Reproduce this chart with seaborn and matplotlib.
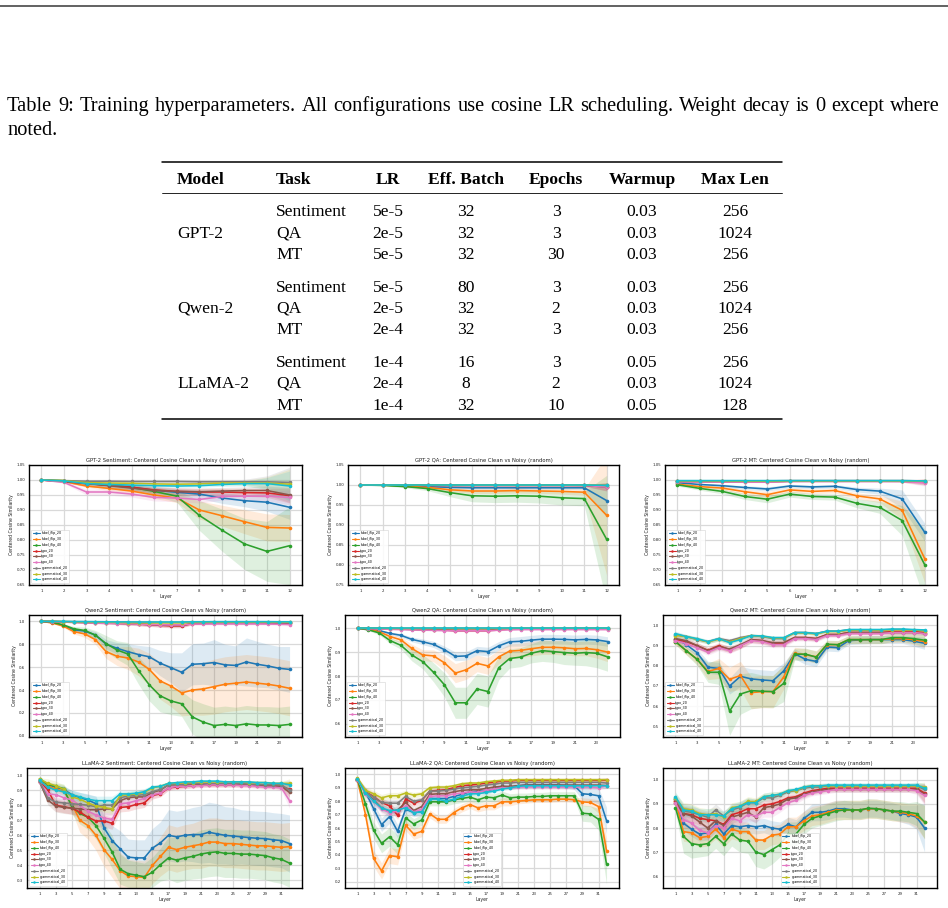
import numpy as np
import pandas as pd
import matplotlib
matplotlib.use("Agg")
import matplotlib.pyplot as plt
import seaborn as sns
from matplotlib.lines import Line2D
from matplotlib.ticker import FormatStrFormatter

# ---------------------------------------------------------------- data
SERIES = ["label_flip_20", "label_flip_30", "label_flip_40",
          "typo_20", "typo_30", "typo_40",
          "grammatical_20", "grammatical_30", "grammatical_40"]
COLORS = ["#1f77b4", "#ff7f0e", "#2ca02c", "#d62728", "#8c564b",
          "#e377c2", "#7f7f7f", "#bcbd22", "#17becf"]

CAPTION_1 = ("Table 9: Training hyperparameters.  All configurations use cosine LR "
             "scheduling.  Weight decay is 0 except where")
CAPTION_2 = "noted."
HEADERS = ["Model", "Task", "LR", "Eff. Batch", "Epochs", "Warmup", "Max Len"]
MODELS = ["GPT-2", "Qwen-2", "LLaMA-2"]
TASKS = ["Sentiment", "QA", "MT", "Sentiment", "QA", "MT", "Sentiment", "QA", "MT"]
LR = ["5e-5", "2e-5", "5e-5", "5e-5", "2e-5", "2e-4", "1e-4", "2e-4", "1e-4"]
EFF_BATCH = ["32", "32", "32", "80", "32", "32", "16", "8", "32"]
EPOCHS = ["3", "3", "30", "3", "2", "3", "3", "2", "10"]
WARMUP = ["0.03", "0.03", "0.03", "0.03", "0.03", "0.03", "0.05", "0.03", "0.05"]
MAX_LEN = ["256", "1024", "256", "256", "1024", "256", "256", "1024", "128"]

LAYERS_12 = [1, 2, 3, 4, 5, 6, 7, 8, 9, 10, 11, 12]
LAYERS_24 = [1, 2, 3, 4, 5, 6, 7, 8, 9, 10, 11, 12, 13, 14, 15, 16, 17, 18, 19, 20, 21, 22, 23, 24]
LAYERS_32 = [1, 2, 3, 4, 5, 6, 7, 8, 9, 10, 11, 12, 13, 14, 15, 16, 17, 18, 19, 20,
             21, 22, 23, 24, 25, 26, 27, 28, 29, 30, 31, 32]
XTICKS_24 = [1, 3, 5, 7, 9, 11, 13, 15, 17, 19, 21, 23]
XTICKS_32 = [1, 3, 5, 7, 9, 11, 13, 15, 17, 19, 21, 23, 25, 27, 29, 31]

# GPT-2 Sentiment (rows in SERIES order)
GPT2_SENT = [
    [1.000, 0.996, 0.988, 0.983, 0.976, 0.966, 0.959, 0.953, 0.940, 0.931, 0.926, 0.909],
    [1.000, 0.995, 0.980, 0.972, 0.963, 0.950, 0.940, 0.900, 0.881, 0.861, 0.842, 0.840],
    [1.000, 0.998, 0.990, 0.982, 0.975, 0.962, 0.946, 0.882, 0.833, 0.787, 0.762, 0.781],
    [1.000, 0.995, 0.988, 0.982, 0.976, 0.967, 0.962, 0.960, 0.960, 0.958, 0.957, 0.948],
    [1.000, 0.995, 0.989, 0.981, 0.973, 0.965, 0.962, 0.961, 0.963, 0.965, 0.965, 0.950],
    [1.000, 0.992, 0.960, 0.960, 0.953, 0.942, 0.940, 0.935, 0.945, 0.946, 0.946, 0.942],
    [1.000, 0.998, 0.996, 0.996, 0.995, 0.995, 0.995, 0.994, 0.994, 0.994, 0.994, 0.992],
    [1.000, 0.998, 0.991, 0.990, 0.989, 0.987, 0.986, 0.987, 0.990, 0.990, 0.990, 0.986],
    [1.000, 0.997, 0.988, 0.985, 0.983, 0.981, 0.980, 0.981, 0.985, 0.988, 0.988, 0.980],
]
# std bands: label_flip_20, _30, _40, typo (all), grammatical (all)
GPT2_SENT_SD = [
    [0.000, 0.002, 0.004, 0.006, 0.008, 0.010, 0.012, 0.014, 0.018, 0.020, 0.030, 0.040],
    [0.000, 0.002, 0.005, 0.007, 0.009, 0.012, 0.015, 0.030, 0.035, 0.040, 0.045, 0.045],
    [0.000, 0.002, 0.005, 0.008, 0.010, 0.013, 0.020, 0.050, 0.070, 0.085, 0.100, 0.130],
    [0.000, 0.003, 0.010, 0.010, 0.010, 0.012, 0.012, 0.012, 0.012, 0.012, 0.015, 0.025],
    [0.000, 0.001, 0.003, 0.003, 0.004, 0.004, 0.005, 0.005, 0.006, 0.008, 0.020, 0.050],
]

GPT2_QA = [
    [1.000, 1.000, 0.998, 0.996, 0.994, 0.993, 0.993, 0.993, 0.993, 0.993, 0.993, 0.961],
    [1.000, 1.000, 0.997, 0.994, 0.988, 0.985, 0.985, 0.986, 0.985, 0.984, 0.982, 0.924],
    [1.000, 0.999, 0.996, 0.991, 0.981, 0.973, 0.972, 0.973, 0.972, 0.968, 0.966, 0.864],
    [1.000, 1.000, 1.000, 0.999, 0.999, 0.999, 0.999, 0.999, 0.999, 0.999, 0.999, 0.996],
    [1.000, 1.000, 1.000, 0.999, 0.999, 0.999, 0.999, 0.999, 0.999, 0.999, 0.999, 0.995],
    [1.000, 1.000, 1.000, 0.999, 0.999, 0.999, 0.999, 0.999, 0.999, 0.999, 0.999, 0.995],
    [1.000, 1.000, 1.000, 1.000, 1.000, 1.000, 1.000, 1.000, 1.000, 1.000, 1.000, 0.999],
    [1.000, 1.000, 1.000, 1.000, 1.000, 1.000, 1.000, 1.000, 1.000, 1.000, 1.000, 0.999],
    [1.000, 1.000, 1.000, 1.000, 1.000, 1.000, 1.000, 1.000, 1.000, 1.000, 1.000, 0.999],
]
GPT2_QA_SD = [
    [0.000, 0.000, 0.001, 0.002, 0.003, 0.004, 0.004, 0.004, 0.004, 0.004, 0.005, 0.040],
    [0.000, 0.000, 0.002, 0.003, 0.005, 0.006, 0.006, 0.006, 0.006, 0.007, 0.008, 0.150],
    [0.000, 0.001, 0.003, 0.005, 0.010, 0.015, 0.016, 0.016, 0.017, 0.018, 0.018, 0.160],
    [0.000, 0.000, 0.000, 0.001, 0.001, 0.001, 0.001, 0.001, 0.001, 0.001, 0.002, 0.010],
    [0.000, 0.000, 0.000, 0.000, 0.000, 0.000, 0.000, 0.000, 0.000, 0.000, 0.001, 0.005],
]

GPT2_MT = [
    [0.991, 0.985, 0.981, 0.975, 0.970, 0.980, 0.977, 0.979, 0.968, 0.963, 0.937, 0.826],
    [0.986, 0.978, 0.973, 0.961, 0.951, 0.967, 0.962, 0.965, 0.947, 0.937, 0.899, 0.738],
    [0.984, 0.972, 0.962, 0.945, 0.936, 0.953, 0.945, 0.943, 0.922, 0.909, 0.865, 0.718],
    [0.995, 0.995, 0.995, 0.995, 0.995, 0.996, 0.996, 0.996, 0.996, 0.996, 0.996, 0.994],
    [0.995, 0.995, 0.995, 0.994, 0.994, 0.996, 0.996, 0.996, 0.996, 0.996, 0.996, 0.993],
    [0.994, 0.994, 0.994, 0.993, 0.993, 0.995, 0.995, 0.995, 0.995, 0.995, 0.995, 0.990],
    [0.997, 0.997, 0.997, 0.997, 0.997, 0.998, 0.998, 0.998, 0.998, 0.998, 0.998, 0.997],
    [0.997, 0.997, 0.997, 0.996, 0.996, 0.997, 0.997, 0.997, 0.997, 0.997, 0.997, 0.996],
    [0.998, 0.998, 0.998, 0.998, 0.998, 0.998, 0.998, 0.998, 0.998, 0.998, 0.998, 0.997],
]
GPT2_MT_SD = [
    [0.003, 0.004, 0.005, 0.006, 0.007, 0.006, 0.006, 0.006, 0.008, 0.010, 0.030, 0.030],
    [0.003, 0.005, 0.006, 0.008, 0.010, 0.008, 0.008, 0.008, 0.010, 0.012, 0.030, 0.080],
    [0.004, 0.006, 0.008, 0.010, 0.012, 0.010, 0.010, 0.010, 0.015, 0.020, 0.050, 0.120],
    [0.002, 0.002, 0.002, 0.002, 0.002, 0.002, 0.002, 0.002, 0.002, 0.002, 0.003, 0.010],
    [0.001, 0.001, 0.001, 0.001, 0.001, 0.001, 0.001, 0.001, 0.001, 0.001, 0.002, 0.005],
]

QWEN_SENT = [
    [1.000, 0.990, 0.965, 0.925, 0.915, 0.880, 0.800, 0.765, 0.735, 0.710, 0.690, 0.635,
     0.595, 0.555, 0.625, 0.630, 0.640, 0.620, 0.615, 0.645, 0.625, 0.610, 0.590, 0.580],
    [1.000, 0.985, 0.960, 0.910, 0.890, 0.840, 0.735, 0.695, 0.680, 0.645, 0.580, 0.480,
     0.435, 0.375, 0.400, 0.410, 0.430, 0.450, 0.460, 0.470, 0.460, 0.450, 0.435, 0.415],
    [1.000, 0.990, 0.970, 0.935, 0.920, 0.880, 0.805, 0.750, 0.715, 0.570, 0.445, 0.350,
     0.305, 0.280, 0.165, 0.120, 0.090, 0.100, 0.090, 0.105, 0.095, 0.095, 0.090, 0.100],
    [1.000, 0.998, 0.995, 0.992, 0.990, 0.988, 0.985, 0.983, 0.980, 0.975, 0.970, 0.965,
     0.960, 0.960, 0.980, 0.982, 0.985, 0.985, 0.985, 0.985, 0.985, 0.985, 0.985, 0.982],
    [1.000, 0.998, 0.995, 0.992, 0.990, 0.988, 0.985, 0.982, 0.980, 0.976, 0.972, 0.968,
     0.965, 0.965, 0.982, 0.983, 0.985, 0.985, 0.985, 0.985, 0.985, 0.985, 0.984, 0.982],
    [1.000, 0.998, 0.994, 0.990, 0.988, 0.985, 0.982, 0.980, 0.978, 0.975, 0.972, 0.970,
     0.968, 0.968, 0.976, 0.976, 0.977, 0.977, 0.977, 0.977, 0.977, 0.976, 0.974, 0.972],
    [1.000, 0.999, 0.998, 0.997, 0.996, 0.995, 0.993, 0.992, 0.991, 0.990, 0.990, 0.990,
     0.990, 0.990, 0.993, 0.994, 0.995, 0.995, 0.995, 0.995, 0.995, 0.995, 0.995, 0.994],
    [1.000, 0.999, 0.998, 0.996, 0.995, 0.994, 0.992, 0.990, 0.989, 0.988, 0.987, 0.987,
     0.987, 0.987, 0.991, 0.992, 0.993, 0.993, 0.993, 0.993, 0.993, 0.993, 0.993, 0.992],
    [1.000, 0.999, 0.999, 0.998, 0.998, 0.997, 0.996, 0.995, 0.995, 0.994, 0.994, 0.994,
     0.994, 0.994, 0.996, 0.996, 0.997, 0.997, 0.997, 0.997, 0.997, 0.997, 0.996, 0.996],
]
QWEN_SENT_SD = [
    [0.000, 0.005, 0.010, 0.015, 0.020, 0.030, 0.040, 0.050, 0.070, 0.080, 0.090, 0.110,
     0.130, 0.170, 0.180, 0.180, 0.200, 0.180, 0.170, 0.210, 0.200, 0.190, 0.190, 0.200],
    [0.000, 0.005, 0.010, 0.020, 0.030, 0.040, 0.060, 0.080, 0.100, 0.120, 0.140, 0.160,
     0.180, 0.200, 0.220, 0.230, 0.240, 0.240, 0.240, 0.240, 0.240, 0.240, 0.240, 0.240],
    [0.000, 0.005, 0.010, 0.020, 0.030, 0.040, 0.070, 0.080, 0.100, 0.120, 0.140, 0.140,
     0.120, 0.110, 0.150, 0.160, 0.160, 0.160, 0.160, 0.160, 0.160, 0.160, 0.160, 0.160],
    [0.000, 0.002, 0.004, 0.005, 0.006, 0.007, 0.008, 0.010, 0.012, 0.014, 0.015, 0.017,
     0.018, 0.018, 0.010, 0.010, 0.010, 0.010, 0.010, 0.010, 0.010, 0.010, 0.010, 0.012],
    [0.000, 0.001, 0.001, 0.002, 0.002, 0.002, 0.003, 0.003, 0.003, 0.004, 0.004, 0.004,
     0.004, 0.004, 0.003, 0.003, 0.003, 0.003, 0.003, 0.003, 0.003, 0.003, 0.003, 0.003],
]

QWEN_QA = [
    [1.000, 0.995, 0.990, 0.978, 0.970, 0.953, 0.943, 0.932, 0.910, 0.882, 0.884, 0.906,
     0.902, 0.926, 0.943, 0.945, 0.950, 0.954, 0.954, 0.953, 0.951, 0.953, 0.951, 0.944],
    [1.000, 0.995, 0.985, 0.965, 0.951, 0.915, 0.888, 0.884, 0.855, 0.812, 0.826, 0.853,
     0.842, 0.880, 0.904, 0.907, 0.914, 0.920, 0.920, 0.918, 0.914, 0.915, 0.910, 0.900],
    [1.000, 0.993, 0.980, 0.948, 0.928, 0.888, 0.860, 0.815, 0.763, 0.688, 0.688, 0.746,
     0.735, 0.835, 0.873, 0.879, 0.895, 0.906, 0.902, 0.898, 0.895, 0.898, 0.895, 0.880],
    [1.000, 0.999, 0.998, 0.997, 0.996, 0.995, 0.994, 0.993, 0.992, 0.990, 0.990, 0.990,
     0.990, 0.994, 0.996, 0.997, 0.997, 0.997, 0.997, 0.997, 0.997, 0.997, 0.997, 0.997],
    [1.000, 0.999, 0.998, 0.997, 0.996, 0.995, 0.994, 0.993, 0.992, 0.991, 0.991, 0.991,
     0.991, 0.995, 0.996, 0.997, 0.997, 0.997, 0.997, 0.997, 0.997, 0.997, 0.997, 0.997],
    [1.000, 0.998, 0.997, 0.995, 0.994, 0.993, 0.992, 0.991, 0.990, 0.989, 0.989, 0.989,
     0.989, 0.992, 0.993, 0.994, 0.994, 0.994, 0.994, 0.994, 0.994, 0.994, 0.994, 0.994],
    [1.000, 1.000, 1.000, 1.000, 0.999, 0.999, 0.999, 0.999, 0.999, 0.999, 0.999, 0.999,
     0.999, 0.999, 1.000, 1.000, 1.000, 1.000, 1.000, 1.000, 1.000, 1.000, 1.000, 1.000],
    [1.000, 1.000, 1.000, 0.999, 0.999, 0.999, 0.999, 0.999, 0.999, 0.999, 0.999, 0.999,
     0.999, 0.999, 0.999, 1.000, 1.000, 1.000, 1.000, 1.000, 1.000, 1.000, 1.000, 1.000],
    [1.000, 1.000, 1.000, 1.000, 1.000, 1.000, 1.000, 1.000, 1.000, 1.000, 1.000, 1.000,
     1.000, 1.000, 1.000, 1.000, 1.000, 1.000, 1.000, 1.000, 1.000, 1.000, 1.000, 1.000],
]
QWEN_QA_SD = [
    [0.000, 0.002, 0.004, 0.006, 0.008, 0.010, 0.012, 0.013, 0.015, 0.018, 0.018, 0.018,
     0.018, 0.018, 0.018, 0.020, 0.020, 0.020, 0.020, 0.020, 0.020, 0.020, 0.020, 0.020],
    [0.000, 0.003, 0.006, 0.010, 0.012, 0.018, 0.022, 0.025, 0.030, 0.040, 0.040, 0.035,
     0.035, 0.030, 0.030, 0.030, 0.030, 0.030, 0.030, 0.030, 0.030, 0.030, 0.035, 0.040],
    [0.000, 0.004, 0.008, 0.012, 0.016, 0.025, 0.030, 0.040, 0.050, 0.065, 0.065, 0.065,
     0.065, 0.050, 0.040, 0.040, 0.040, 0.045, 0.045, 0.050, 0.050, 0.055, 0.060, 0.060],
    [0.000, 0.001, 0.001, 0.002, 0.002, 0.002, 0.003, 0.003, 0.003, 0.004, 0.004, 0.004,
     0.004, 0.003, 0.002, 0.002, 0.002, 0.002, 0.002, 0.002, 0.002, 0.002, 0.002, 0.002],
    [0.000, 0.000, 0.000, 0.001, 0.001, 0.001, 0.001, 0.001, 0.001, 0.001, 0.001, 0.001,
     0.001, 0.001, 0.001, 0.001, 0.001, 0.001, 0.001, 0.001, 0.001, 0.001, 0.001, 0.001],
]

QWEN_MT = [
    [0.935, 0.905, 0.865, 0.793, 0.787, 0.700, 0.748, 0.735, 0.730, 0.726, 0.775, 0.860,
     0.832, 0.822, 0.893, 0.890, 0.925, 0.928, 0.930, 0.930, 0.930, 0.930, 0.922, 0.912],
    [0.920, 0.875, 0.833, 0.772, 0.787, 0.733, 0.752, 0.667, 0.672, 0.672, 0.745, 0.862,
     0.855, 0.845, 0.905, 0.905, 0.930, 0.930, 0.930, 0.930, 0.935, 0.935, 0.930, 0.920],
    [0.920, 0.875, 0.832, 0.768, 0.768, 0.575, 0.660, 0.677, 0.674, 0.672, 0.713, 0.857,
     0.858, 0.843, 0.907, 0.905, 0.930, 0.930, 0.930, 0.930, 0.940, 0.940, 0.935, 0.927],
    [0.930, 0.920, 0.900, 0.877, 0.900, 0.880, 0.900, 0.930, 0.925, 0.910, 0.913, 0.940,
     0.940, 0.935, 0.955, 0.955, 0.965, 0.965, 0.965, 0.965, 0.970, 0.970, 0.970, 0.965],
    [0.935, 0.925, 0.900, 0.875, 0.895, 0.883, 0.905, 0.930, 0.925, 0.915, 0.915, 0.940,
     0.940, 0.935, 0.955, 0.955, 0.965, 0.965, 0.965, 0.965, 0.965, 0.965, 0.965, 0.960],
    [0.925, 0.910, 0.890, 0.868, 0.890, 0.875, 0.900, 0.925, 0.920, 0.905, 0.905, 0.935,
     0.935, 0.930, 0.950, 0.950, 0.960, 0.960, 0.960, 0.960, 0.965, 0.965, 0.965, 0.960],
    [0.955, 0.945, 0.930, 0.920, 0.935, 0.925, 0.940, 0.950, 0.945, 0.935, 0.935, 0.965,
     0.965, 0.960, 0.972, 0.972, 0.978, 0.978, 0.978, 0.978, 0.980, 0.980, 0.978, 0.975],
    [0.950, 0.945, 0.932, 0.918, 0.932, 0.918, 0.935, 0.950, 0.947, 0.938, 0.938, 0.963,
     0.963, 0.958, 0.970, 0.970, 0.977, 0.977, 0.977, 0.977, 0.979, 0.979, 0.977, 0.974],
    [0.960, 0.945, 0.935, 0.920, 0.935, 0.915, 0.930, 0.950, 0.948, 0.940, 0.940, 0.965,
     0.965, 0.960, 0.972, 0.972, 0.980, 0.980, 0.980, 0.980, 0.982, 0.982, 0.980, 0.978],
]
QWEN_MT_SD = [
    [0.015, 0.015, 0.020, 0.030, 0.030, 0.040, 0.050, 0.050, 0.050, 0.050, 0.040, 0.025,
     0.025, 0.025, 0.020, 0.020, 0.020, 0.020, 0.020, 0.020, 0.020, 0.020, 0.025, 0.030],
    [0.015, 0.020, 0.025, 0.040, 0.050, 0.060, 0.070, 0.080, 0.080, 0.080, 0.060, 0.030,
     0.030, 0.030, 0.020, 0.020, 0.020, 0.020, 0.020, 0.020, 0.020, 0.020, 0.025, 0.030],
    [0.015, 0.020, 0.030, 0.050, 0.060, 0.120, 0.100, 0.090, 0.080, 0.080, 0.090, 0.030,
     0.030, 0.030, 0.020, 0.020, 0.020, 0.020, 0.020, 0.020, 0.020, 0.020, 0.025, 0.030],
    [0.015, 0.015, 0.015, 0.015, 0.015, 0.015, 0.015, 0.015, 0.015, 0.015, 0.015, 0.012,
     0.012, 0.012, 0.010, 0.010, 0.010, 0.010, 0.010, 0.010, 0.010, 0.010, 0.010, 0.010],
    [0.012, 0.010, 0.010, 0.010, 0.010, 0.010, 0.010, 0.008, 0.008, 0.008, 0.008, 0.008,
     0.008, 0.008, 0.006, 0.006, 0.006, 0.006, 0.006, 0.006, 0.006, 0.006, 0.006, 0.006],
]

LLAMA_SENT = [
    [.965, .935, .920, .905, .870, .850, .835, .810, .650, .565, .510, .455, .450, .450, .515, .550,
     .600, .590, .600, .605, .605, .620, .610, .600, .595, .590, .585, .580, .578, .570, .565, .545],
    [.960, .930, .905, .895, .810, .700, .665, .600, .505, .440, .365, .330, .325, .320, .400, .460,
     .520, .505, .520, .530, .540, .555, .555, .545, .545, .540, .535, .530, .530, .525, .520, .525],
    [.975, .940, .925, .910, .790, .745, .720, .665, .580, .490, .375, .345, .335, .325, .355, .405,
     .450, .435, .450, .460, .475, .485, .490, .480, .480, .475, .475, .470, .465, .450, .440, .415],
    [.955, .905, .800, .790, .780, .755, .720, .695, .695, .680, .785, .790, .805, .815, .865, .875,
     .915, .920, .925, .930, .935, .935, .935, .935, .935, .935, .935, .930, .925, .925, .925, .905],
    [.955, .835, .795, .785, .780, .775, .770, .770, .775, .775, .830, .850, .855, .855, .885, .900,
     .935, .935, .935, .935, .940, .940, .940, .940, .940, .940, .935, .935, .930, .930, .925, .885],
    [.955, .875, .870, .850, .835, .800, .760, .735, .715, .705, .810, .815, .830, .845, .870, .880,
     .915, .925, .925, .930, .930, .935, .935, .935, .935, .930, .930, .925, .920, .920, .915, .830],
    [.960, .850, .820, .815, .810, .805, .800, .790, .800, .800, .850, .860, .865, .870, .890, .905,
     .935, .940, .940, .945, .945, .945, .945, .945, .945, .945, .940, .940, .935, .935, .935, .900],
    [.975, .945, .930, .905, .855, .840, .815, .795, .785, .775, .865, .870, .875, .885, .915, .925,
     .945, .945, .950, .950, .955, .955, .955, .955, .955, .955, .950, .950, .950, .945, .945, .945],
    [.965, .920, .900, .890, .870, .855, .840, .830, .830, .830, .875, .875, .880, .890, .920, .925,
     .945, .950, .955, .955, .960, .960, .960, .955, .955, .955, .955, .950, .950, .945, .945, .935],
]
LLAMA_SENT_SD = [
    [.010, .015, .020, .025, .030, .035, .040, .050, .080, .100, .120, .120, .120, .120, .130, .140,
     .170, .170, .170, .180, .190, .200, .200, .190, .190, .180, .180, .180, .180, .180, .180, .190],
    [.010, .015, .020, .030, .050, .080, .090, .100, .110, .120, .120, .110, .110, .110, .120, .130,
     .150, .150, .150, .150, .160, .160, .160, .160, .160, .160, .160, .160, .160, .160, .160, .160],
    [.010, .015, .020, .030, .050, .070, .080, .090, .100, .110, .100, .090, .090, .090, .100, .110,
     .140, .150, .150, .150, .160, .160, .160, .160, .160, .160, .160, .160, .160, .160, .160, .160],
    [.010, .030, .040, .040, .040, .040, .040, .040, .040, .040, .030, .030, .030, .030, .025, .020,
     .015, .015, .015, .015, .015, .015, .015, .015, .015, .015, .015, .015, .015, .015, .020, .050],
    [.008, .030, .030, .030, .030, .030, .030, .030, .030, .030, .020, .020, .020, .020, .015, .015,
     .010, .010, .010, .010, .010, .010, .010, .010, .010, .010, .010, .010, .010, .010, .012, .030],
]

LLAMA_QA = [
    [.965, .870, .745, .625, .685, .575, .740, .715, .720, .820, .820, .820, .835, .850, .870, .875,
     .875, .890, .910, .905, .915, .920, .920, .920, .920, .920, .915, .915, .855, .850, .840, .655],
    [.955, .700, .375, .280, .395, .385, .620, .555, .575, .705, .665, .665, .715, .750, .775, .750,
     .765, .765, .795, .795, .800, .805, .810, .810, .810, .815, .815, .810, .795, .790, .760, .430],
    [.960, .780, .585, .485, .535, .475, .675, .630, .660, .795, .795, .795, .810, .820, .830, .810,
     .830, .825, .845, .825, .830, .830, .835, .835, .840, .840, .840, .840, .710, .705, .665, .330],
    [.960, .870, .835, .790, .765, .695, .815, .785, .805, .875, .880, .885, .900, .915, .920, .925,
     .935, .940, .950, .950, .955, .955, .955, .955, .955, .955, .955, .955, .955, .955, .955, .955],
    [.965, .860, .810, .750, .720, .735, .790, .730, .760, .850, .855, .855, .870, .880, .885, .885,
     .895, .905, .910, .910, .915, .920, .920, .920, .920, .920, .920, .920, .920, .920, .920, .915],
    [.960, .855, .800, .740, .715, .725, .765, .720, .740, .835, .840, .840, .855, .860, .870, .865,
     .880, .890, .900, .900, .905, .905, .905, .905, .905, .905, .905, .905, .905, .905, .900, .915],
    [.965, .870, .830, .790, .785, .785, .835, .800, .810, .875, .875, .880, .890, .900, .905, .910,
     .920, .925, .935, .935, .940, .940, .940, .940, .940, .940, .940, .940, .940, .940, .940, .935],
    [.975, .880, .855, .825, .840, .840, .860, .845, .855, .900, .905, .905, .915, .930, .935, .935,
     .945, .950, .955, .955, .960, .960, .960, .960, .960, .960, .960, .960, .960, .960, .960, .960],
    [.965, .860, .800, .750, .730, .735, .750, .715, .720, .815, .815, .800, .815, .835, .855, .855,
     .865, .875, .890, .900, .910, .915, .915, .915, .915, .915, .915, .915, .915, .915, .915, .915],
]
LLAMA_QA_SD = [
    [.010, .030, .050, .050, .050, .050, .030, .030, .030, .020, .020, .020, .020, .020, .020, .020,
     .020, .020, .020, .020, .020, .020, .020, .020, .020, .020, .020, .030, .050, .050, .060, .100],
    [.010, .050, .060, .060, .060, .060, .040, .040, .040, .030, .030, .030, .030, .030, .030, .030,
     .030, .030, .030, .030, .020, .020, .020, .020, .020, .020, .020, .020, .030, .030, .050, .100],
    [.010, .050, .060, .070, .070, .070, .040, .040, .040, .030, .030, .030, .030, .030, .030, .030,
     .030, .030, .030, .030, .030, .030, .030, .030, .030, .030, .030, .030, .060, .060, .080, .150],
    [.010, .030, .030, .030, .030, .030, .025, .025, .025, .020, .020, .020, .015, .015, .015, .015,
     .015, .015, .015, .015, .015, .015, .015, .015, .015, .015, .015, .015, .015, .015, .015, .020],
    [.010, .025, .025, .025, .025, .025, .020, .020, .020, .015, .015, .015, .012, .012, .012, .012,
     .012, .012, .012, .012, .012, .012, .012, .012, .012, .012, .012, .012, .012, .012, .012, .015],
]

LLAMA_MT = [
    [.920, .820, .795, .775, .780, .815, .775, .810, .805, .810, .805, .810, .800, .795, .815, .805,
     .840, .865, .865, .870, .880, .880, .875, .875, .880, .880, .875, .870, .860, .855, .845, .800],
    [.910, .785, .780, .760, .765, .795, .760, .795, .785, .785, .750, .750, .770, .775, .805, .805,
     .830, .850, .855, .865, .875, .875, .875, .875, .880, .880, .875, .870, .865, .860, .850, .825],
    [.885, .765, .735, .730, .735, .765, .735, .775, .750, .745, .700, .690, .710, .730, .775, .775,
     .815, .840, .850, .860, .870, .875, .875, .875, .882, .880, .875, .870, .870, .865, .860, .825],
    [.910, .860, .855, .840, .835, .830, .815, .855, .865, .880, .880, .895, .900, .910, .925, .930,
     .945, .955, .960, .965, .965, .965, .965, .965, .965, .965, .965, .965, .965, .965, .965, .945],
    [.905, .860, .850, .825, .800, .830, .810, .845, .855, .865, .845, .885, .890, .900, .920, .925,
     .940, .950, .955, .960, .960, .960, .960, .960, .960, .960, .960, .960, .960, .960, .960, .940],
    [.905, .835, .820, .790, .780, .810, .800, .840, .830, .855, .850, .865, .865, .885, .905, .915,
     .935, .945, .950, .955, .960, .960, .960, .960, .960, .960, .960, .960, .960, .960, .955, .935],
    [.920, .870, .865, .855, .845, .875, .850, .875, .885, .905, .905, .925, .925, .935, .950, .955,
     .965, .970, .970, .975, .975, .975, .975, .975, .975, .975, .975, .975, .975, .975, .975, .960],
    [.925, .880, .875, .860, .855, .860, .845, .885, .890, .910, .910, .930, .935, .940, .955, .955,
     .970, .975, .975, .975, .975, .975, .975, .975, .975, .975, .975, .975, .975, .975, .975, .970],
    [.930, .875, .870, .855, .855, .855, .850, .880, .890, .905, .905, .930, .935, .940, .955, .960,
     .970, .975, .975, .978, .978, .978, .978, .978, .978, .978, .978, .978, .978, .978, .978, .965],
]
LLAMA_MT_SD = [
    [.020, .030, .030, .030, .030, .030, .030, .030, .030, .030, .030, .030, .030, .030, .030, .030,
     .030, .035, .035, .035, .035, .035, .035, .035, .035, .035, .035, .035, .035, .040, .050, .100],
    [.020, .040, .040, .040, .040, .040, .040, .040, .040, .040, .040, .040, .040, .040, .040, .040,
     .040, .040, .040, .040, .040, .040, .040, .040, .040, .040, .040, .040, .040, .040, .050, .070],
    [.020, .070, .060, .050, .050, .050, .050, .050, .050, .050, .060, .060, .060, .050, .050, .050,
     .040, .040, .040, .040, .040, .040, .040, .040, .040, .040, .040, .040, .040, .040, .050, .070],
    [.020, .030, .030, .030, .030, .030, .030, .025, .025, .025, .025, .020, .020, .020, .015, .015,
     .015, .012, .012, .012, .012, .012, .012, .012, .012, .012, .012, .012, .012, .012, .015, .040],
    [.020, .025, .025, .025, .025, .025, .020, .020, .020, .020, .015, .015, .015, .012, .010, .010,
     .010, .010, .010, .010, .010, .010, .010, .010, .010, .010, .010, .010, .010, .010, .012, .020],
]

PANELS = [
    ("GPT-2 Sentiment", LAYERS_12, LAYERS_12, GPT2_SENT, GPT2_SENT_SD),
    ("GPT-2 QA", LAYERS_12, LAYERS_12, GPT2_QA, GPT2_QA_SD),
    ("GPT-2 MT", LAYERS_12, LAYERS_12, GPT2_MT, GPT2_MT_SD),
    ("Qwen2 Sentiment", LAYERS_24, XTICKS_24, QWEN_SENT, QWEN_SENT_SD),
    ("Qwen2 QA", LAYERS_24, XTICKS_24, QWEN_QA, QWEN_QA_SD),
    ("Qwen2 MT", LAYERS_24, XTICKS_24, QWEN_MT, QWEN_MT_SD),
    ("LLaMA-2 Sentiment", LAYERS_32, XTICKS_32, LLAMA_SENT, LLAMA_SENT_SD),
    ("LLaMA-2 QA", LAYERS_32, XTICKS_32, LLAMA_QA, LLAMA_QA_SD),
    ("LLaMA-2 MT", LAYERS_32, XTICKS_32, LLAMA_MT, LLAMA_MT_SD),
]

# ---------------------------------------------------------------- layout / style
W, H = 948, 908
# (left, top, right, bottom) in pixels
RECTS = [(29, 465, 302, 585), (348, 465, 619, 585), (665, 465, 937, 585),
         (29, 615, 302, 737), (345, 615, 620, 737), (663, 615, 937, 737),
         (27, 768, 302, 888), (345, 768, 619, 888), (663, 768, 937, 888)]
YLIMS = [(0.65, 1.05), (0.75, 1.05), (0.65, 1.05),
         (-0.01, 1.055), (0.545, 1.055), (0.447, 1.052),
         (0.25, 1.047), (0.153, 1.047), (0.551, 1.049)]
YTICKS = [np.arange(0.65, 1.051, 0.05), np.arange(0.75, 1.051, 0.05), np.arange(0.65, 1.051, 0.05),
          np.arange(0.0, 1.01, 0.2), np.arange(0.6, 1.01, 0.1), np.arange(0.5, 1.01, 0.1),
          np.arange(0.3, 1.01, 0.1), np.arange(0.2, 1.01, 0.1), np.arange(0.6, 1.01, 0.1)]
YFMT = ["%.2f"] * 3 + ["%.1f"] * 6
LEG_LOC = ["lower left"] * 7 + ["lower center", "lower center"]

sns.set_style("white")
plt.rcParams["font.family"] = ["DejaVu Sans"]
plt.rcParams["text.color"] = "black"

fig = plt.figure(figsize=(W / 100, H / 100), dpi=100)
fig.patch.set_facecolor("white")


def fx(x):
    return x / W


def fy(y):
    return 1 - y / H


# top page rule
fig.add_artist(Line2D([0, 1], [fy(6), fy(6)], color="#555555", lw=1.3))

SERIF = ["Liberation Serif", "DejaVu Serif"]
FS = 12.6
renderer = fig.canvas.get_renderer()


def put(x, y, s, ha="left", bold=False, fs=FS):
    base = 0.33 * fs * 100 / 72
    return fig.text(fx(x), fy(y + base), s, ha=ha, va="baseline", fontsize=fs,
                    family=SERIF, color="black", fontweight="bold" if bold else "normal")


def text_width(s, fs):
    t = fig.text(0, 0, s, fontsize=fs, family=SERIF)
    w = t.get_window_extent(renderer).width
    t.remove()
    return w


# justified caption line, font sized so the natural line nearly fills the measure
words = CAPTION_1.split()
x0, x1 = 7, 940
nat = text_width(" ".join(words), 10.0)
FS_CAP = 10.0 * (x1 - x0 - 12) / nat
widths = [text_width(w, FS_CAP) for w in words]
gap = (x1 - x0 - sum(widths)) / (len(words) - 1)
x = x0
for w, wd in zip(words, widths):
    put(x, 104, w, fs=FS_CAP)
    x += wd + gap
put(7, 128, CAPTION_2, fs=FS_CAP)

# table
fig.add_artist(Line2D([fx(162), fx(782)], [fy(161.5), fy(161.5)], color="black", lw=1.1))
fig.add_artist(Line2D([fx(162), fx(782)], [fy(192.5), fy(192.5)], color="black", lw=0.6))
fig.add_artist(Line2D([fx(162), fx(782)], [fy(419), fy(419)], color="black", lw=1.1))
COL_X = [177, 276, 388, 466, 556, 642, 735]
COL_HA = ["left", "left", "center", "center", "center", "center", "center"]
for h, cx, ha in zip(HEADERS, COL_X, COL_HA):
    put(cx, 178, h, ha=ha, bold=True)
ROW_Y = [210, 232, 253, 286, 307, 328, 361, 382, 404]
for i in range(9):
    y = ROW_Y[i]
    cells = [TASKS[i], LR[i], EFF_BATCH[i], EPOCHS[i], WARMUP[i], MAX_LEN[i]]
    for s, cx, ha in zip(cells, COL_X[1:], COL_HA[1:]):
        put(cx, y, s, ha=ha)
for m, y in zip(MODELS, [232, 307, 382]):
    put(177, y, m)

# panels
for k, (name, layers, xt, means, sds) in enumerate(PANELS):
    l, t, r, b = RECTS[k]
    ax = fig.add_axes([fx(l), fy(b), (r - l) / W, (b - t) / H])
    sd_per_series = [sds[0], sds[1], sds[2], sds[3], sds[3], sds[3], sds[4], sds[4], sds[4]]
    rows = []
    for s, vals in zip(SERIES, means):
        for lay, v in zip(layers, vals):
            rows.append((lay, v, s))
    df = pd.DataFrame(rows, columns=["Layer", "value", "series"])
    for s, vals, sd, c in zip(SERIES, means, sd_per_series, COLORS):
        v = np.array(vals)
        e = np.array(sd)
        ax.fill_between(layers, v - e, v + e, color=c, alpha=0.15, lw=0)
    sns.lineplot(data=df, x="Layer", y="value", hue="series", hue_order=SERIES,
                 palette=COLORS, marker="o", markersize=2.6, markeredgewidth=0,
                 linewidth=1.15, errorbar=None, legend=False, ax=ax, sort=False)
    ax.set_ylim(*YLIMS[k])
    ax.set_xticks(xt)
    ax.set_yticks(YTICKS[k])
    ax.yaxis.set_major_formatter(FormatStrFormatter(YFMT[k]))
    ax.grid(True, color="#d9d9d9", lw=0.9)
    ax.set_axisbelow(True)
    for sp in ax.spines.values():
        sp.set_color("black")
        sp.set_linewidth(1.0)
    ax.tick_params(labelsize=2.8, length=1.5, width=0.4, pad=1.2, colors="#222222")
    ax.set_title(name + ": Centered Cosine Clean vs Noisy (random)", fontsize=3.8, pad=2,
                 color="#222222")
    ax.set_xlabel("Layer", fontsize=3.3, labelpad=1.2, color="#222222")
    ax.set_ylabel("Centered Cosine Similarity", fontsize=3.3, labelpad=1.5, color="#222222")
    handles = [Line2D([], [], color=c, marker="o", markersize=1.8, markeredgewidth=0, lw=0.8)
               for c in COLORS]
    leg = ax.legend(handles, SERIES, loc=LEG_LOC[k], fontsize=2.3, frameon=True,
                    framealpha=0.85, edgecolor="#cccccc", borderpad=0.5,
                    labelspacing=0.55, handlelength=2.2, handletextpad=0.6, borderaxespad=0.6)
    leg.get_frame().set_linewidth(0.4)

fig.savefig("out.png", dpi=100, facecolor="white")
